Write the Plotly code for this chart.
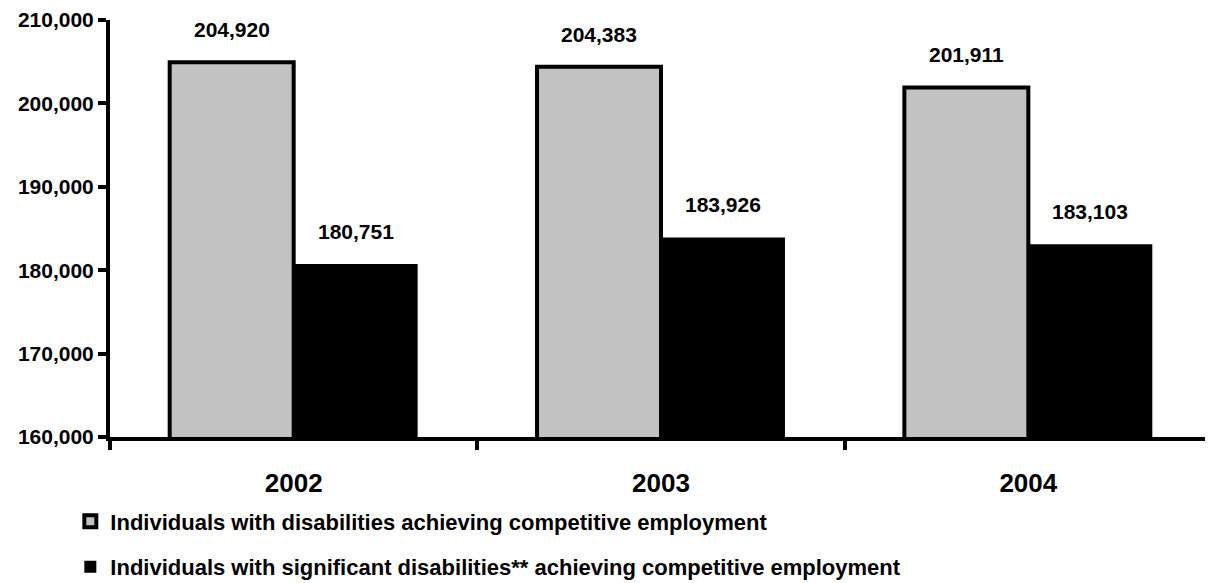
import plotly.graph_objects as go

years = ["2002", "2003", "2004"]
all_disab = [204920, 204383, 201911]
sig_disab = [180751, 183926, 183103]
name_all = "Individuals with disabilities achieving competitive employment"
name_sig = "Individuals with significant disabilities** achieving competitive employment"
y_ticks = [160000, 170000, 180000, 190000, 200000, 210000]

FONT = "Liberation Sans"
BARGAP = 0.325
half = (1 - BARGAP) / 4  # offset of each bar centre from category centre

fig = go.Figure()
fig.add_trace(go.Bar(
    x=years, y=all_disab, name=name_all,
    marker=dict(color="#c2c2c2", line=dict(color="black", width=4)),
    legend="legend",
))
fig.add_trace(go.Bar(
    x=years, y=sig_disab, name=name_sig,
    marker=dict(color="black", line=dict(color="black", width=0)),
    legend="legend2",
))

for i, (a, s) in enumerate(zip(all_disab, sig_disab)):
    for off, v in ((-half, a), (half, s)):
        fig.add_annotation(
            x=i + off, y=v, xref="x", yref="y", text=f"{v:,}",
            showarrow=False, yanchor="bottom", yshift=19,
            font=dict(family=FONT, size=21, color="black", weight="bold"),
        )

fig.update_layout(
    width=1205, height=575,
    margin=dict(l=102, r=1, t=12, b=146, autoexpand=False),
    plot_bgcolor="white", paper_bgcolor="white",
    barmode="group", bargap=BARGAP, bargroupgap=0,
    font=dict(family=FONT, size=20, color="black", weight="bold"),
    legend=dict(x=-0.036, y=0.107, yref="container", xanchor="left", yanchor="middle",
                font=dict(family=FONT, size=22, color="black", weight="bold"),
                bgcolor="rgba(0,0,0,0)"),
    legend2=dict(x=-0.036, y=0.028, yref="container", xanchor="left", yanchor="middle",
                 font=dict(family=FONT, size=22, color="black", weight="bold"),
                 bgcolor="rgba(0,0,0,0)"),
    showlegend=True,
)
fig.update_xaxes(
    showline=True, linecolor="black", linewidth=4,
    ticks="outside", tickson="boundaries", ticklen=9, tickwidth=4, tickcolor="black",
    ticklabelstandoff=20,
    tickfont=dict(family=FONT, size=26, color="black", weight="bold"),
    showgrid=False,
)
fig.update_yaxes(
    range=[160000, 210000], tickvals=y_ticks, tickformat=",d",
    showline=True, linecolor="black", linewidth=4,
    ticks="outside", ticklen=8, tickwidth=4, tickcolor="black",
    tickfont=dict(family=FONT, size=21, color="black", weight="bold"),
    showgrid=False, zeroline=False,
)
fig.write_html("out.html")
